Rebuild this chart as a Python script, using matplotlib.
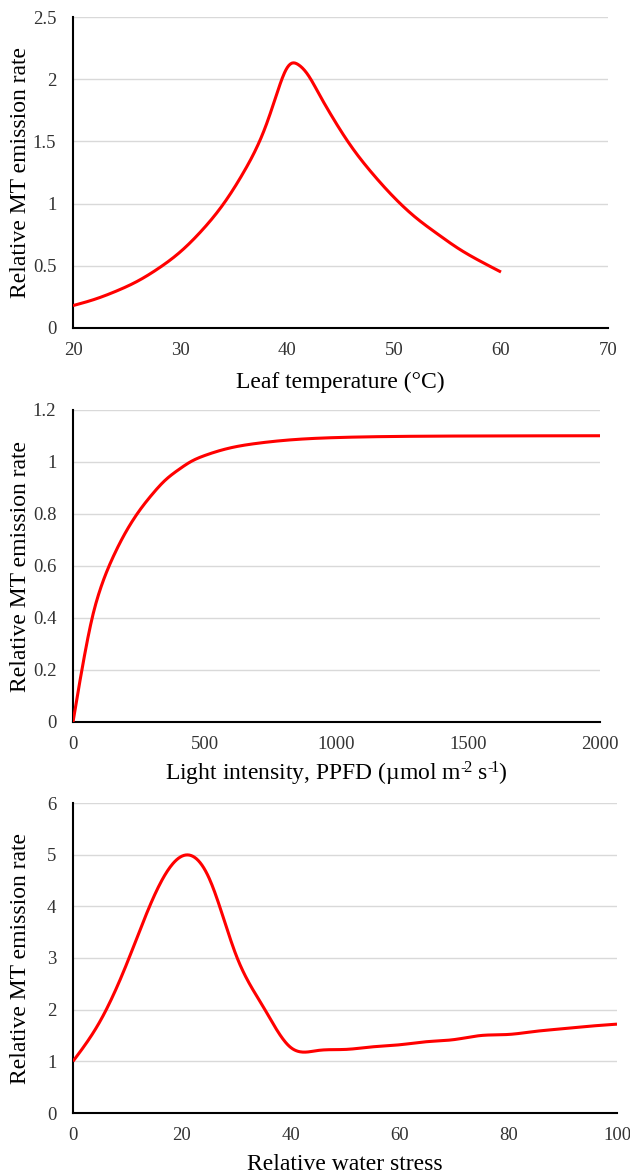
import numpy as np
import matplotlib
matplotlib.use('Agg')
import matplotlib.pyplot as plt
from matplotlib.ticker import FuncFormatter

plt.rcParams['font.family'] = ['Liberation Serif', 'DejaVu Serif']
plt.rcParams['mathtext.fontset'] = 'custom'
plt.rcParams['mathtext.rm'] = 'Liberation Serif'
plt.rcParams['mathtext.default'] = 'rm'

# Panel 1: leaf temperature response
temp_c = [20, 22, 24, 26, 28, 30, 32, 34, 36, 38, 39, 40, 40.5, 41, 42, 43, 44, 46,
          48, 50, 52, 54, 56, 58, 60]
temp_rate = [0.18, 0.23, 0.295, 0.375, 0.48, 0.61, 0.78, 0.99, 1.26, 1.62, 1.87, 2.09, 2.13,
             2.12, 2.03, 1.88, 1.73, 1.46, 1.24, 1.05, 0.89, 0.76, 0.64, 0.54, 0.45]

# Panel 2: light response
ppfd = [0, 25, 50, 75, 100, 150, 200, 250, 300, 350, 400, 450, 500, 600, 700, 800, 900,
        1000, 1200, 1500, 2000]
light_rate = [0, 0.15, 0.29, 0.41, 0.50, 0.63, 0.73, 0.81, 0.875, 0.93, 0.97, 1.003, 1.025,
              1.055, 1.072, 1.083, 1.090, 1.094, 1.098, 1.100, 1.101]

# Panel 3: water stress response
stress = [0, 5, 10, 15, 20, 25, 30, 35, 40, 45, 50, 55, 60, 65, 70, 75, 80, 85, 90, 95, 100]
stress_rate = [1.0, 1.78, 2.92, 4.22, 4.97, 4.55, 3.05, 2.05, 1.27, 1.21, 1.23, 1.28, 1.32,
               1.38, 1.42, 1.50, 1.52, 1.58, 1.63, 1.68, 1.72]


def spline(x, y, n=600):
    # natural cubic spline through the points, like a smoothed line
    x = np.asarray(x, float)
    y = np.asarray(y, float)
    k = len(x)
    h = np.diff(x)
    A = np.zeros((k, k))
    rhs = np.zeros(k)
    A[0, 0] = A[-1, -1] = 1
    for i in range(1, k - 1):
        A[i, i - 1] = h[i - 1]
        A[i, i] = 2 * (h[i - 1] + h[i])
        A[i, i + 1] = h[i]
        rhs[i] = 6 * ((y[i + 1] - y[i]) / h[i] - (y[i] - y[i - 1]) / h[i - 1])
    M = np.linalg.solve(A, rhs)
    xs = np.linspace(x[0], x[-1], n)
    j = np.clip(np.searchsorted(x, xs) - 1, 0, k - 2)
    a = x[j + 1] - xs
    b = xs - x[j]
    hj = h[j]
    ys = (M[j] * a ** 3 / (6 * hj) + M[j + 1] * b ** 3 / (6 * hj)
          + (y[j] / hj - M[j] * hj / 6) * a + (y[j + 1] / hj - M[j + 1] * hj / 6) * b)
    return xs, ys


W, H = 630, 1175
fig = plt.figure(figsize=(W / 100, H / 100), dpi=100)

panels = [
    dict(x=temp_c, y=temp_rate, box=(73, 608, 17, 328), xlim=(20, 70), xt=range(20, 71, 10),
         ylim=(0, 2.5), yt=[0, 0.5, 1, 1.5, 2, 2.5], xlabel='Leaf temperature (°C)', lp=9),
    dict(x=ppfd, y=light_rate, box=(73, 600, 410, 722), xlim=(0, 2000), xt=range(0, 2001, 500),
         ylim=(0, 1.2), yt=[0, 0.2, 0.4, 0.6, 0.8, 1, 1.2],
         xlabel='Light intensity, PPFD (µmol m$^{\u2010\\!2}$ s$^{\u2010\\!1}$)', lp=5),
    dict(x=stress, y=stress_rate, box=(73, 617, 803, 1113), xlim=(0, 100), xt=range(0, 101, 20),
         ylim=(0, 6), yt=range(0, 7), xlabel='Relative water stress', lp=7),
]

fmt = FuncFormatter(lambda v, p: '{:g}'.format(round(v, 3)))

for p in panels:
    l, r, t, b = p['box']
    ax = fig.add_axes([l / W, (H - b) / H, (r - l) / W, (b - t) / H])
    sx, sy = spline(p['x'], p['y'])
    ax.plot(sx, sy, color='#FF0000', lw=2.2, solid_capstyle='butt', zorder=3)
    ax.set_xlim(*p['xlim'])
    ax.set_ylim(*p['ylim'])
    ax.set_xticks(list(p['xt']))
    ax.set_yticks(list(p['yt']))
    ax.xaxis.set_major_formatter(fmt)
    ax.yaxis.set_major_formatter(fmt)
    ax.grid(axis='y', color='#D9D9D9', lw=1.0)
    ax.set_axisbelow(True)
    for s in ('top', 'right'):
        ax.spines[s].set_visible(False)
    for s in ('left', 'bottom'):
        ax.spines[s].set_linewidth(1.5)
        ax.spines[s].set_color('black')
    ax.tick_params(length=0, labelsize=13.5, colors='#333333')
    ax.tick_params(axis='y', pad=12)
    ax.tick_params(axis='x', pad=10)
    ax.set_ylabel('Relative MT emission rate', fontsize=17)
    ax.yaxis.set_label_coords((31 - l) / (r - l), 0.5)
    ax.set_xlabel(p['xlabel'], fontsize=17, labelpad=p['lp'])

fig.savefig('out.png', dpi=100)
